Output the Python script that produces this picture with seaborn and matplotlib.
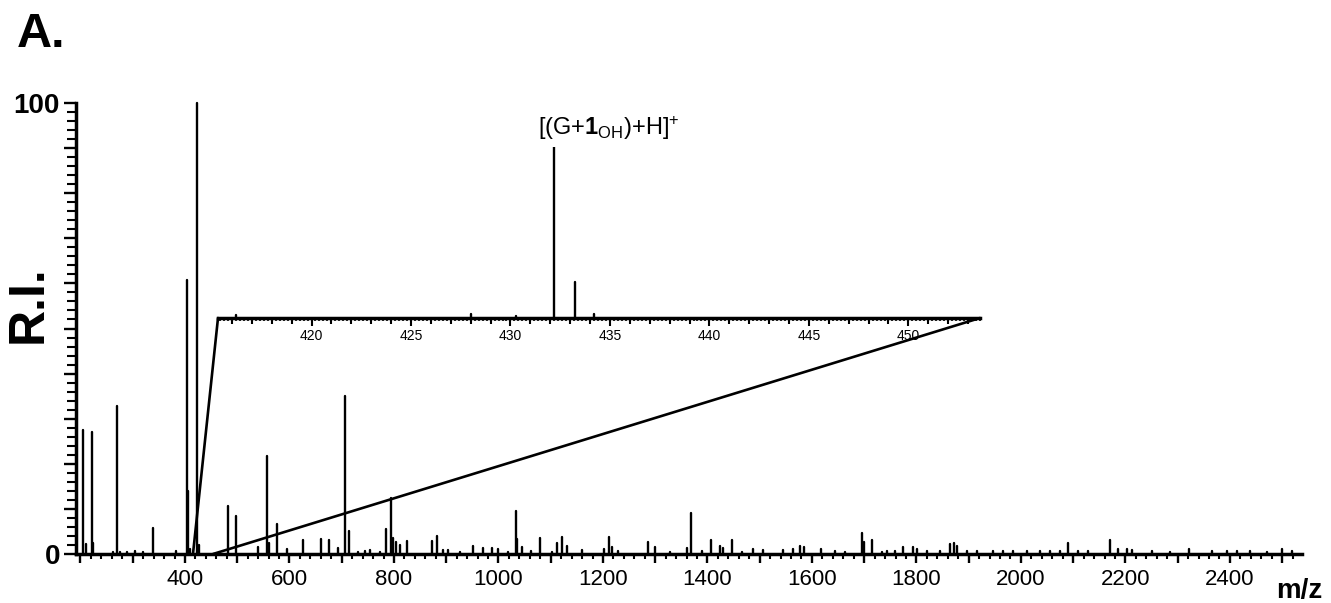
import numpy as np
import pandas as pd
import matplotlib
matplotlib.use("Agg")
import matplotlib.pyplot as plt
from matplotlib.ticker import MultipleLocator, FuncFormatter
from matplotlib.patches import ConnectionPatch
import seaborn as sns

# ---------------- data ----------------
main_mz = [205.4, 210.5, 221.3, 224.5, 262.8, 270.6, 275.6, 288.3, 304.3, 320.0,
           338.2, 382.6, 403.1, 406.3, 410.0, 422.3, 427.4, 481.7, 497.6, 539.0,
           556.2, 561.3, 576.6, 595.7, 626.3, 659.5, 675.4, 693.3, 706.0, 714.3,
           731.6, 744.4, 753.9, 773.0, 784.5, 794.1, 797.3, 803.7, 811.3, 825.4,
           872.6, 882.2, 894.4, 904.0, 926.0, 951.8, 971.0, 987.0, 1000.0, 1019.0,
           1033.5, 1036.0, 1044.5, 1061.7, 1079.4, 1101.8, 1112.7, 1121.6, 1130.5, 1160.5,
           1202.0, 1211.6, 1218.0, 1229.5, 1286.9, 1299.7, 1328.4, 1361.6, 1368.6, 1390.3,
           1406.9, 1424.1, 1429.2, 1447.7, 1465.6, 1486.6, 1505.7, 1545.3, 1564.4, 1577.2,
           1584.9, 1617.4, 1644.2, 1663.3, 1696.5, 1700.3, 1715.6, 1733.5, 1743.0, 1759.0,
           1774.8, 1794.0, 1800.4, 1819.5, 1845.0, 1864.2, 1871.9, 1878.2, 1896.0, 1915.3,
           1947.2, 1966.3, 1985.4, 2011.0, 2036.5, 2055.7, 2074.8, 2090.8, 2109.9, 2129.0,
           2170.5, 2186.5, 2202.4, 2212.0, 2250.3, 2285.4, 2322.4, 2365.0, 2393.8, 2413.0,
           2438.5, 2470.4, 2499.1, 2518.3]
main_ri = [27.5, 2.2, 27.1, 2.4, 0.5, 32.9, 0.4, 0.5, 0.7, 0.4,
           5.8, 0.7, 60.8, 14.0, 1.0, 100.0, 2.0, 10.6, 8.5, 1.6,
           21.7, 2.4, 6.7, 1.0, 3.0, 3.3, 3.0, 1.3, 35.0, 5.0,
           0.5, 0.7, 0.9, 0.5, 5.6, 12.5, 3.5, 2.7, 2.0, 2.9,
           2.9, 4.0, 0.9, 0.9, 0.5, 1.85, 1.3, 1.3, 1.0, 0.5,
           9.5, 3.3, 1.5, 0.7, 3.5, 0.5, 2.4, 3.7, 1.85, 0.9,
           1.1, 3.7, 1.6, 0.7, 2.7, 1.5, 0.5, 1.3, 9.0, 0.7,
           3.1, 1.85, 1.3, 3.1, 0.5, 1.0, 0.9, 0.9, 1.0, 1.85,
           1.6, 1.0, 0.7, 0.5, 4.7, 2.7, 3.1, 0.5, 0.6, 0.7,
           1.5, 1.5, 1.1, 0.6, 0.6, 2.2, 2.4, 1.7, 0.6, 0.6,
           0.7, 0.6, 0.6, 0.6, 0.6, 0.7, 0.7, 2.4, 0.6, 0.6,
           3.0, 1.1, 1.1, 0.9, 0.6, 0.4, 1.0, 0.6, 0.6, 0.6,
           0.6, 0.4, 1.1, 0.6]

inset_mz = [416.2, 428.0, 430.3, 432.2, 433.25, 434.2]
inset_ri = [1.8, 2.3, 1.3, 100.0, 21.2, 2.2]

main_xticklabels = [400, 600, 800, 1000, 1200, 1400, 1600, 1800, 2000, 2200, 2400]
inset_xticklabels = [420, 425, 430, 435, 440, 445, 450]
zoom_range = (415.3, 453.6)

annotation = r'[(G+$\mathbf{1}_{\mathrm{OH}}$)+H]$^{+}$'

# ---------------- style ----------------
sns.set_style("ticks")
plt.rcParams['font.family'] = ['Liberation Sans', 'DejaVu Sans']
plt.rcParams['mathtext.fontset'] = 'custom'
plt.rcParams['mathtext.rm'] = 'Liberation Sans'
plt.rcParams['mathtext.it'] = 'Liberation Sans:italic'
plt.rcParams['mathtext.bf'] = 'Liberation Sans:bold'
for k in ('text.color', 'axes.labelcolor', 'xtick.color', 'ytick.color', 'axes.edgecolor'):
    plt.rcParams[k] = 'black'


def sticks(mz, ri):
    rows = []
    for i, (m, r) in enumerate(zip(mz, ri)):
        rows.append((i, m, 0.0))
        rows.append((i, m, r))
    return pd.DataFrame(rows, columns=["pid", "mz", "ri"])


W, H = 1331, 603
fig = plt.figure(figsize=(W / 100, H / 100), dpi=100)
fig.patch.set_facecolor("white")

def fx(px):
    return px / W

def fy(py):
    return 1 - py / H

# main axes
ax = fig.add_axes([fx(76), fy(554), fx(1302) - fx(76), fy(103) - fy(554)])
ax.set_facecolor("none")
sns.lineplot(data=sticks(main_mz, main_ri), x="mz", y="ri", units="pid",
             estimator=None, color="black", lw=1.7, ax=ax, legend=False)
for ln in ax.lines:
    ln.set_clip_on(False)
ax.set_xlim(191.4, 2538)
ax.set_ylim(0, 100)
sns.despine(ax=ax)
for s in ("left", "bottom"):
    ax.spines[s].set_linewidth(2.5)
ax.xaxis.set_major_locator(MultipleLocator(100))
ax.xaxis.set_minor_locator(MultipleLocator(20))
ax.xaxis.set_major_formatter(FuncFormatter(
    lambda v, p: str(int(round(v))) if int(round(v)) in main_xticklabels else ""))
ax.yaxis.set_major_locator(MultipleLocator(10))
ax.yaxis.set_minor_locator(MultipleLocator(2))
ax.yaxis.set_major_formatter(FuncFormatter(
    lambda v, p: str(int(round(v))) if int(round(v)) in (0, 100) else ""))
ax.tick_params(axis="x", which="major", length=6.5, width=1.7, labelsize=16, pad=4)
ax.tick_params(axis="x", which="minor", length=3.5, width=1.5)
ax.tick_params(axis="y", which="major", length=8.5, width=1.7, pad=3)
ax.tick_params(axis="y", which="minor", length=6.5, width=1.5)
for lab in ax.get_yticklabels():
    lab.set_fontweight("bold")
    lab.set_fontsize(20)
ax.set_xlabel("")
ax.set_ylabel("")

# inset axes
base_y = 318
top_y = 146.7
axi = fig.add_axes([fx(218), fy(base_y), fx(980) - fx(218), fy(top_y) - fy(base_y)])
axi.set_facecolor("none")
sns.lineplot(data=sticks(inset_mz, inset_ri), x="mz", y="ri", units="pid",
             estimator=None, color="black", lw=1.7, ax=axi, legend=False)
axi.set_xlim(*zoom_range)
axi.set_ylim(0, 100)
sns.despine(ax=axi, left=True)
axi.spines["bottom"].set_linewidth(2.5)
axi.set_yticks([])
axi.xaxis.set_major_locator(MultipleLocator(1))
axi.xaxis.set_minor_locator(MultipleLocator(0.2))
axi.xaxis.set_major_formatter(FuncFormatter(
    lambda v, p: str(int(round(v))) if int(round(v)) in inset_xticklabels else ""))
axi.tick_params(axis="x", which="major", length=6, width=1.5, labelsize=10, pad=2)
axi.tick_params(axis="x", which="minor", length=2.5, width=1.2)
axi.set_xlabel("")
axi.set_ylabel("")
fig.canvas.draw()
locs = axi.xaxis.get_majorticklocs()
for loc, t in zip(locs, axi.xaxis.get_major_ticks(len(locs))):
    if int(round(loc)) % 5 != 0:
        t.tick1line.set_markersize(4)

# zoom connector lines
for xv in zoom_range:
    con = ConnectionPatch(xyA=(xv, 0), coordsA=ax.transData,
                          xyB=(xv, 0), coordsB=axi.transData,
                          color="black", lw=1.9)
    fig.add_artist(con)

# texts
fig.text(fx(17), fy(47), "A.", fontsize=35, fontweight="bold", va="baseline", ha="left")
fig.text(fx(29), fy(304), "R.I.", fontsize=36, fontweight="bold", rotation=90,
         va="center", ha="center")
fig.text(fx(1299), fy(598), "m/z", fontsize=20, fontweight="bold", va="baseline", ha="center")
fig.text(fx(538), fy(135), annotation, fontsize=17, va="baseline", ha="left")

fig.savefig("out.png", dpi=100, facecolor="white")
